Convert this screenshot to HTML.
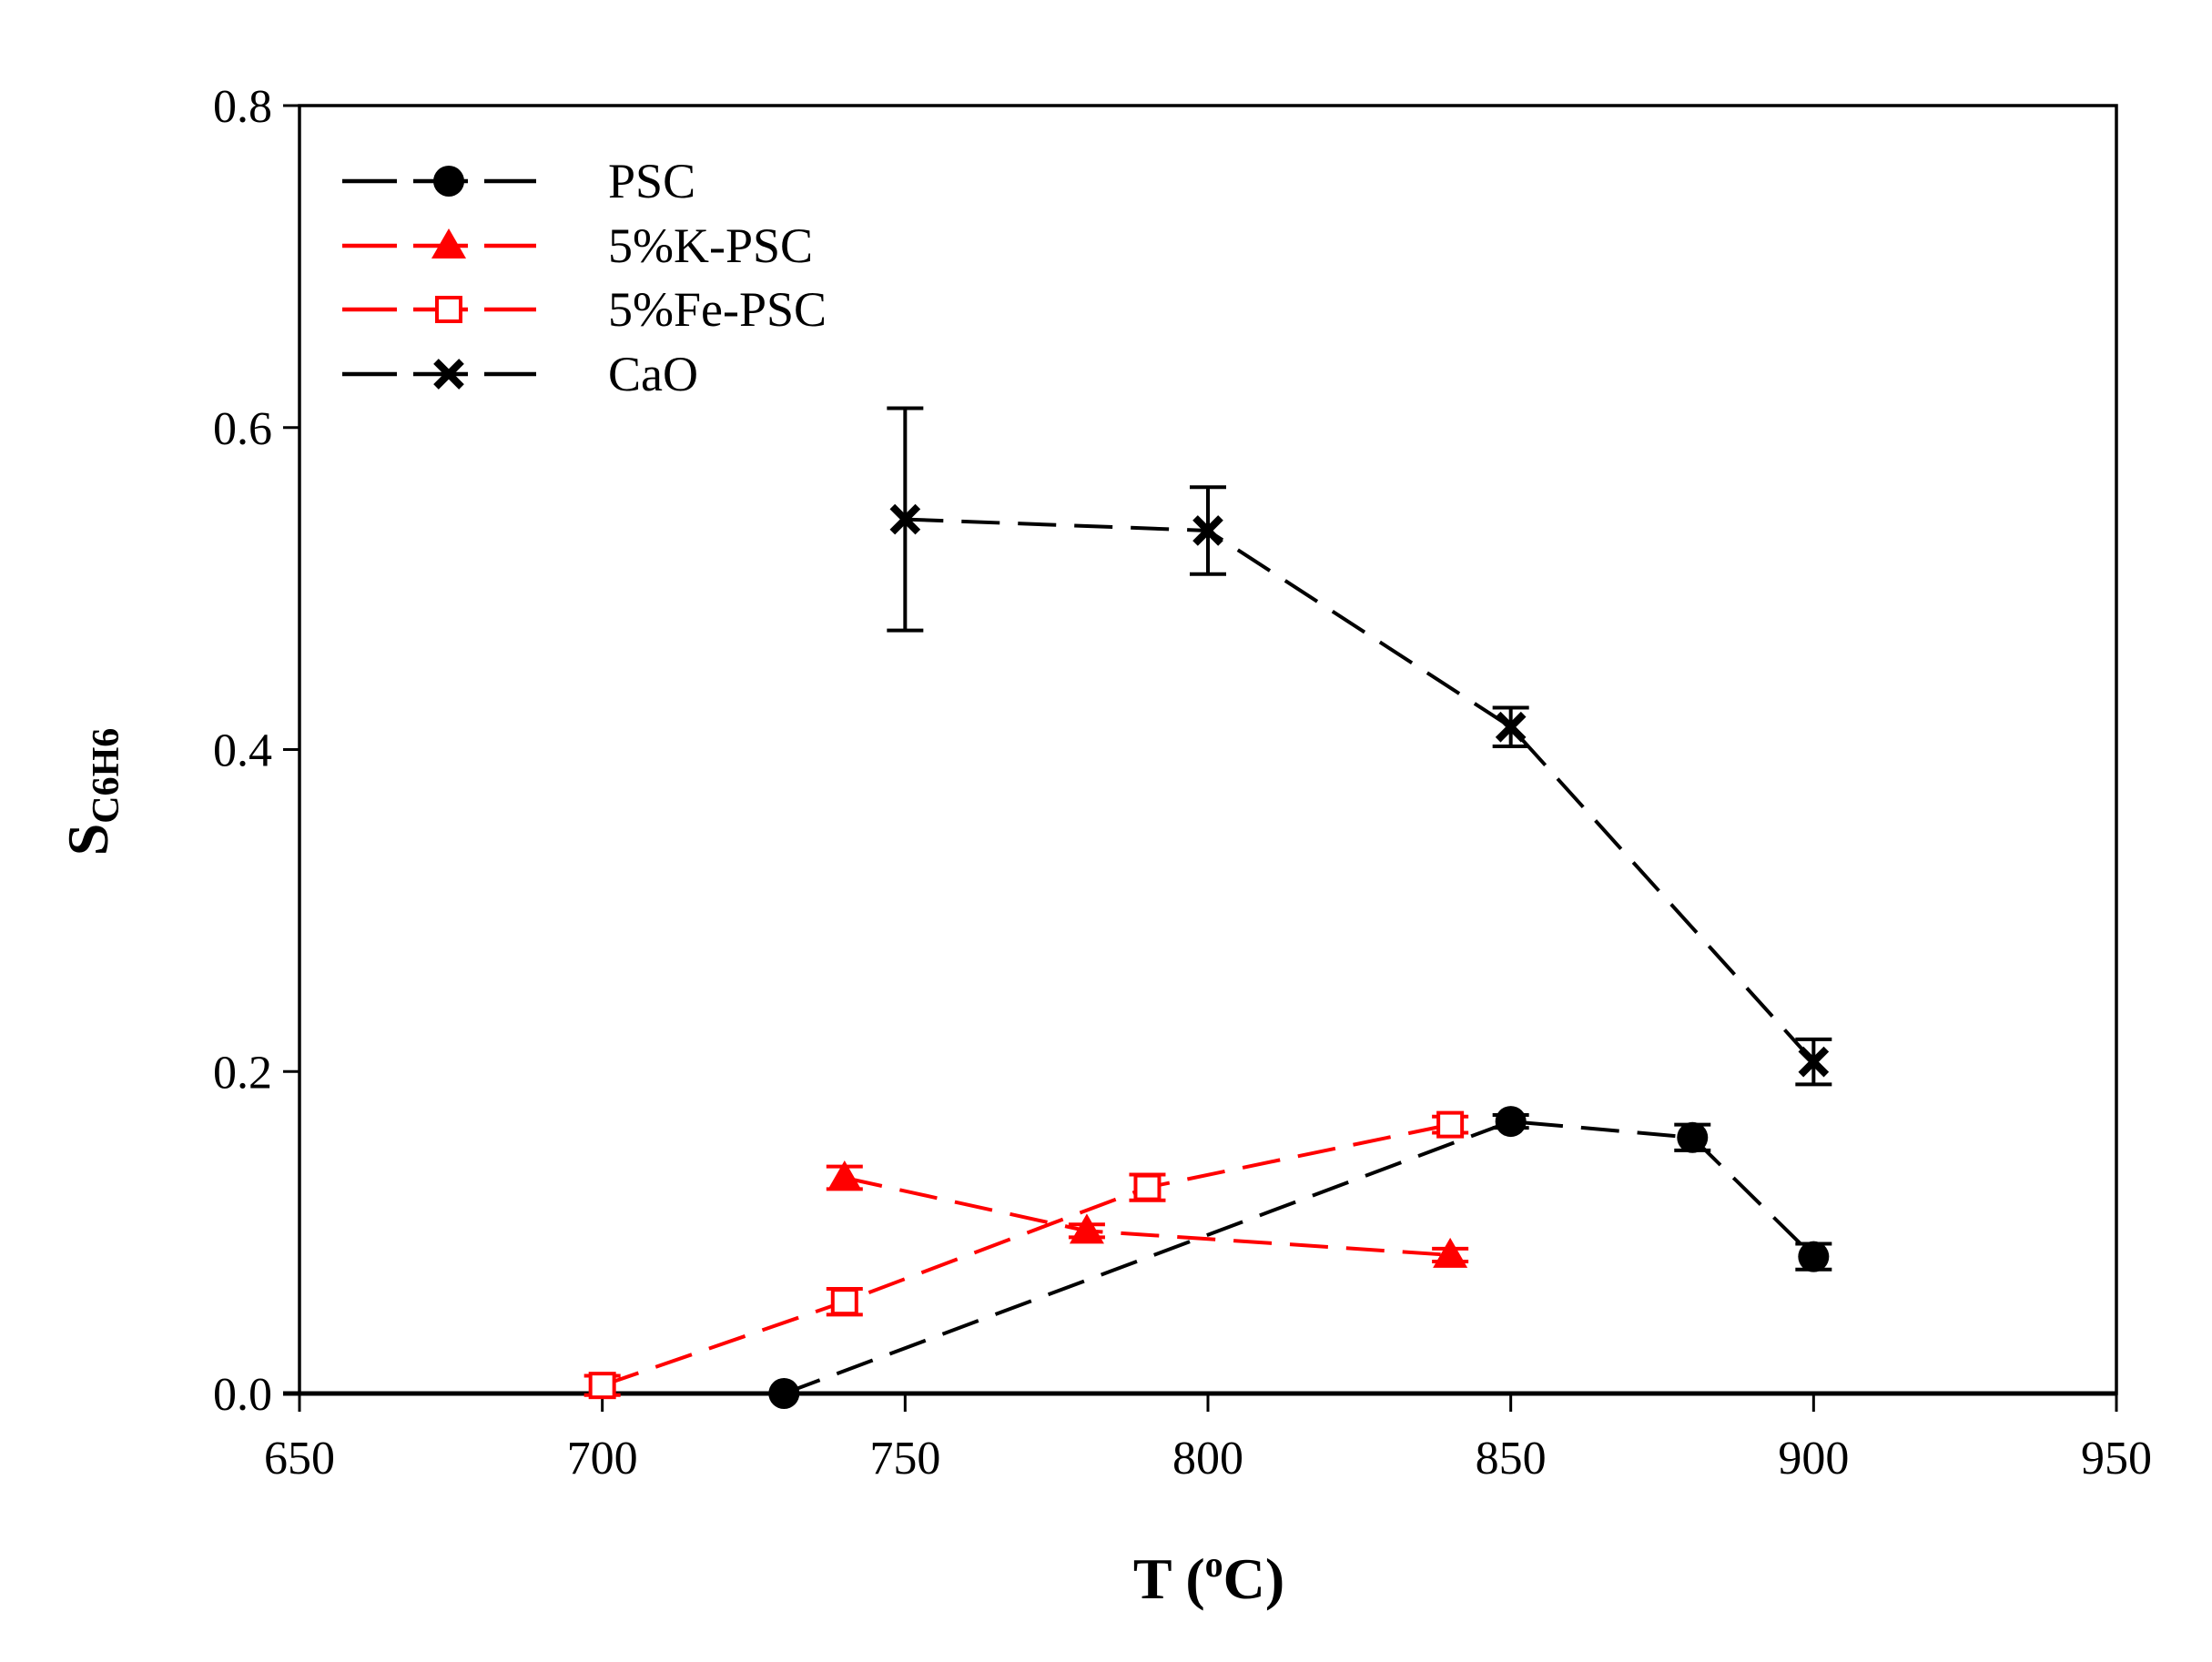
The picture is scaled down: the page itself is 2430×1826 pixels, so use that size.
<!DOCTYPE html>
<html><head><meta charset="utf-8"><style>
html,body{margin:0;padding:0;background:#fff}
svg{display:block}
text{font-family:"Liberation Serif",serif}
</style></head><body>
<svg id="chart" width="2430" height="1826" viewBox="0 0 2430 1826" xmlns="http://www.w3.org/2000/svg">
<g id="axes"></g>
<g id="plot"></g>
<g id="legend"></g>
</svg>
<script>
const xTicks=[650,700,750,800,850,900,950];
const yTicks=[0.0,0.2,0.4,0.6,0.8];
const yTickLabels=["0.0","0.2","0.4","0.6","0.8"];
const pscX=[730,850,880,900];
const pscY=[0,0.169,0.159,0.085];
const pscErr=[0,0.004,0.008,0.008];
const kX=[740,780,840];
const kY=[0.134,0.101,0.086];
const kErr=[0.007,0.004,0.004];
const feX=[700,740,790,840];
const feY=[0.005,0.057,0.128,0.167];
const feErr=[0.006,0.008,0.008,0.005];
const caoX=[750,800,850,900];
const caoY=[0.543,0.536,0.414,0.206];
const caoErr=[0.069,0.027,0.012,0.014];
const seriesNames=["PSC","5%K-PSC","5%Fe-PSC","CaO"];

const NS="http://www.w3.org/2000/svg";
const L=329,R=2325,T=116,B=1531;
const sx=v=>L+(v-650)/300*(R-L);
const sy=v=>B-(v/0.8)*(B-T);
function mk(tag,attrs,parent){const e=document.createElementNS(NS,tag);for(const k in attrs)e.setAttribute(k,attrs[k]);parent.appendChild(e);return e;}
const axes=document.getElementById('axes'),plot=document.getElementById('plot'),leg=document.getElementById('legend');

const frame=mk('rect',{x:L,y:T,width:R-L,height:B-T,fill:'none',stroke:'#000','stroke-width':3.5},axes);


const xb=mk('line',{x1:L-18,y1:B,x2:R,y2:B,stroke:'#000','stroke-width':5},axes);


xTicks.forEach(v=>{
  const t=mk('line',{x1:sx(v),y1:B,x2:sx(v),y2:B+20,stroke:'#000','stroke-width':3},axes);
  
  
  const tx=mk('text',{x:sx(v),y:B+88,'font-size':52,'text-anchor':'middle'},axes);
  tx.textContent=v;
  
  
});
yTicks.forEach((v,i)=>{
  const t=mk('line',{x1:L-18,y1:sy(v),x2:L,y2:sy(v),stroke:'#000','stroke-width':3},axes);
  
  
  const tx=mk('text',{x:L-30,y:sy(v)+18,'font-size':52,'text-anchor':'end'},axes);
  tx.textContent=yTickLabels[i];
  
  
});
const xt=mk('text',{x:1328,y:1756,'font-size':64,'font-weight':'bold','text-anchor':'middle'},axes);
xt.innerHTML='T (<tspan dy="-24" font-size="40">o</tspan><tspan dy="24">C)</tspan>';


const yt=mk('text',{x:0,y:0,'font-size':64,'font-weight':'bold','text-anchor':'middle',transform:'translate(118,870) rotate(-90)'},axes);
yt.innerHTML='S<tspan font-size="42" dy="12">C6H6</tspan>';



function marker(type,color,x,y,parent){
  let e;
  if(type==='circle')e=mk('circle',{cx:x,cy:y,r:17,fill:color},parent);
  else if(type==='tri')e=mk('polygon',{points:`${x},${y-19} ${x+19},${y+14} ${x-19},${y+14}`,fill:color},parent);
  else if(type==='sq')e=mk('rect',{x:x-13,y:y-13,width:26,height:26,fill:'#fff',stroke:color,'stroke-width':4},parent);
  else {e=mk('path',{d:`M${x-14},${y-14}L${x+14},${y+14}M${x+14},${y-14}L${x-14},${y+14}`,stroke:color,'stroke-width':8,fill:'none'},parent);}
  return e;
}
const defs=[[pscX,pscY,pscErr,'#000','circle','psc'],[kX,kY,kErr,'#f00','tri','k-psc'],[feX,feY,feErr,'#f00','sq','fe-psc'],[caoX,caoY,caoErr,'#000','x','cao']];
defs.forEach(([xs,ys,es,c,m,nm])=>{
  const g=mk('g',{},plot);
  
  
  const pl=mk('polyline',{points:xs.map((x,i)=>sx(x)+','+sy(ys[i])).join(' '),fill:'none',stroke:c,'stroke-width':4,'stroke-dasharray':'42 20'},g);
  
  
  xs.forEach((x,i)=>{
    if(es[i]>0){
      const px=sx(x),y1=sy(ys[i]+es[i]),y2=sy(ys[i]-es[i]);
      const eb=mk('path',{d:`M${px},${y1}V${y2}M${px-20},${y1}H${px+20}M${px-20},${y2}H${px+20}`,stroke:c,'stroke-width':4,fill:'none'},g);
      
      
    }
    const p=marker(m,c,sx(x),sy(ys[i]),g);
    
    
  });
});
const legY=[199,270,340,411];
defs.forEach((d,i)=>{
  const g=mk('g',{},leg);
  
  
  mk('line',{x1:376,y1:legY[i],x2:589,y2:legY[i],stroke:d[3],'stroke-width':4.5,'stroke-dasharray':'60 18'},g);
  marker(d[4],d[3],493,legY[i],g);
  const t=mk('text',{x:668,y:legY[i]+18,'font-size':54},g);
  t.textContent=seriesNames[i];
  
  
});
</script>
</body></html>
